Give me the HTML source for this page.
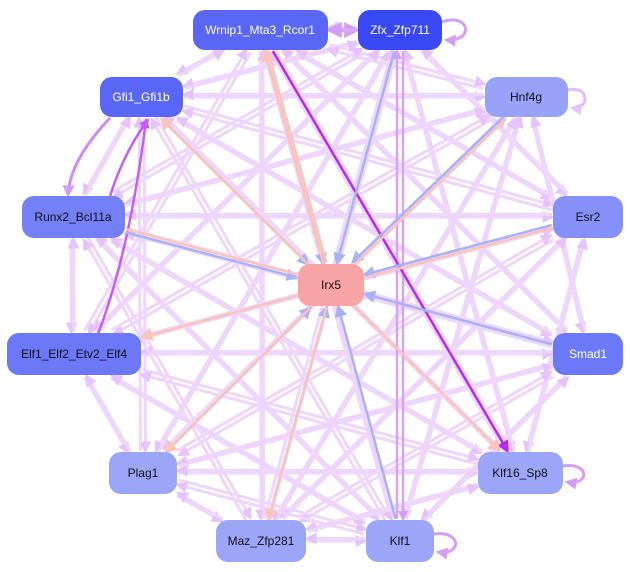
<!DOCTYPE html>
<html><head><meta charset="utf-8"><style>
html,body{margin:0;padding:0;background:#fff;width:630px;height:572px;overflow:hidden}
svg{display:block}
text{font-family:"Liberation Sans",sans-serif;font-size:12px;text-anchor:middle;dominant-baseline:central}
</style></head><body>
<svg id="s" width="630" height="572" viewBox="0 0 630 572">
<defs>
<marker id="mL" markerWidth="4" markerHeight="4" refX="3.2" refY="2" orient="auto" markerUnits="strokeWidth"><path d="M0,0L4,2L0,4z" fill="#e6c4fb"/></marker>
<marker id="mP" markerWidth="4" markerHeight="4" refX="3.2" refY="2" orient="auto" markerUnits="strokeWidth"><path d="M0,0L4,2L0,4z" fill="#d59cf8"/></marker>
<marker id="mD" markerWidth="5" markerHeight="5" refX="4" refY="2.5" orient="auto" markerUnits="strokeWidth"><path d="M0,0L5,2.5L0,5z" fill="#b52cf0"/></marker>
<marker id="mV" markerWidth="4" markerHeight="4" refX="3.2" refY="2" orient="auto" markerUnits="strokeWidth"><path d="M0,0L4,2L0,4z" fill="#c45ef8"/></marker>
<marker id="mB" markerWidth="5" markerHeight="5" refX="4" refY="2.5" orient="auto" markerUnits="strokeWidth"><path d="M0,0L5,2.5L0,5z" fill="#a8b2f8"/></marker>
<marker id="mS" markerWidth="5" markerHeight="5" refX="4" refY="2.5" orient="auto" markerUnits="strokeWidth"><path d="M0,0L5,2.5L0,5z" fill="#fcc4b8"/></marker>
</defs>
<g id="edges"></g>
<g id="nodes">
<rect x="193" y="10" width="135" height="40" rx="12" fill="#5a67f6"/><text x="260" y="30" fill="#fff">Wrnip1_Mta3_Rcor1</text>
<rect x="358" y="10" width="84" height="40" rx="12" fill="#3848f5"/><text x="400" y="30" fill="#fff">Zfx_Zfp711</text>
<rect x="100" y="77" width="83" height="40" rx="12" fill="#5a67f6"/><text x="141" y="97" fill="#fff">Gfi1_Gfi1b</text>
<rect x="485" y="77" width="83" height="40" rx="12" fill="#98a2f9"/><text x="526" y="97" fill="#111">Hnf4g</text>
<rect x="22" y="196" width="103" height="42" rx="12" fill="#7380f7"/><text x="73" y="217" fill="#111">Runx2_Bcl11a</text>
<rect x="553" y="196" width="70" height="42" rx="12" fill="#8590f8"/><text x="588" y="217" fill="#111">Esr2</text>
<rect x="298" y="264" width="66" height="42" rx="12" fill="#f9a4a4"/><text x="331" y="285" fill="#111">Irx5</text>
<rect x="7" y="333" width="134" height="42" rx="12" fill="#6b78f7"/><text x="74" y="354" fill="#111">Elf1_Elf2_Etv2_Elf4</text>
<rect x="553" y="333" width="70" height="42" rx="12" fill="#6b78f7"/><text x="588" y="354" fill="#fff">Smad1</text>
<rect x="109" y="452" width="68" height="42" rx="12" fill="#9ca6f9"/><text x="143" y="473" fill="#111">Plag1</text>
<rect x="478" y="452" width="85" height="42" rx="12" fill="#9ca6f9"/><text x="520" y="473" fill="#111">Klf16_Sp8</text>
<rect x="216" y="520" width="90" height="42" rx="12" fill="#9ca6f9"/><text x="261" y="541" fill="#111">Maz_Zfp281</text>
<rect x="366" y="520" width="68" height="42" rx="12" fill="#9ca6f9"/><text x="400" y="541" fill="#111">Klf1</text>
</g>
</svg>
<script>
var N={W:[193,10,135,40],Z:[358,10,84,40],G:[100,77,83,40],H:[485,77,83,40],R:[22,196,103,42],E:[553,196,70,42],I:[298,264,66,42],F:[7,333,134,42],S:[553,333,70,42],P:[109,452,68,42],K:[478,452,85,42],M:[216,520,90,42],L:[366,520,68,42]};
function c(n){var b=N[n];return [b[0]+b[2]/2,b[1]+b[3]/2];}
function clip(n,dx,dy,ox,oy){var b=N[n],hw=b[2]/2+1,hh=b[3]/2+1;var t=Math.min(dx?hw/Math.abs(dx):1e9,dy?hh/Math.abs(dy):1e9);return [ox+dx*t,oy+dy*t];}
var g=document.getElementById('edges'),ns='http://www.w3.org/2000/svg';
function line(a,b,col,w,mk,off){var A=c(a),B=c(b);var dx=B[0]-A[0],dy=B[1]-A[1],l=Math.hypot(dx,dy);var px=-dy/l*(off||0),py=dx/l*(off||0);
var p=clip(a,dx,dy,A[0]+px,A[1]+py),q=clip(b,-dx,-dy,B[0]+px,B[1]+py);
var e=document.createElementNS(ns,'line');e.setAttribute('x1',p[0]);e.setAttribute('y1',p[1]);e.setAttribute('x2',q[0]);e.setAttribute('y2',q[1]);
e.setAttribute('stroke',col);e.setAttribute('stroke-width',w);if(mk)e.setAttribute('marker-end','url(#'+mk+')');g.appendChild(e);}
function path(d,col,w,mk){var e=document.createElementNS(ns,'path');e.setAttribute('d',d);e.setAttribute('fill','none');e.setAttribute('stroke',col);e.setAttribute('stroke-width',w);if(mk)e.setAttribute('marker-end','url(#'+mk+')');g.appendChild(e);}
var O='WZGHREFSPKML'.split('');
for(var i=0;i<O.length;i++)for(var j=0;j<O.length;j++){if(i==j)continue;if((i*7+j*3)%4==0)continue;line(O[i],O[j],(i+j)%4?'#eed6fc':'#e4c2fa',3,'mL',((i*5+j)%3-1)*2.5);}
line('Z','L','#d7a2f8',2.5,'mP',-3);line('L','Z','#d7a2f8',2.5,'mP',-3);
line('W','Z','#dba6f8',4,'mP',0);line('Z','W','#dba6f8',4,'mP',0);
line('W','K','#b52cf0',2.5,'mD',0);
path('M98,334 Q130,250 146,120','#c45ef8',2.5,'mV');
path('M110,196 Q125,150 148,120','#c45ef8',2.5,'mV');
path('M110,118 Q70,160 68,195','#d08af8',3,'mP');
path('M442,22 C470,12 475,42 446,40','#d59cf8',3,'mP');
path('M568,90 C590,85 590,110 572,108','#e2bcfa',3,'mL');
path('M563,466 C590,462 590,486 567,482','#d59cf8',3,'mP');
path('M434,534 C462,530 462,556 438,552','#d59cf8',3,'mP');
var B='#a8b2f8',S='#fcc4b8';
[['R',1],['W',1],['Z',0],['H',1],['E',1],['S',0],['M',1],['L',1],['G',1],['P',1]].forEach(function(x){line(x[0],'I',B,2.5,'mB',x[1]?1.5:0);});
['R','W','H','E'].forEach(function(n){line(n,'I',S,2.5,null,-1.5);});
['F','P','K','M','G','W'].forEach(function(n){line('I',n,S,2.5,'mS',-1.5);});
</script>
</body></html>
